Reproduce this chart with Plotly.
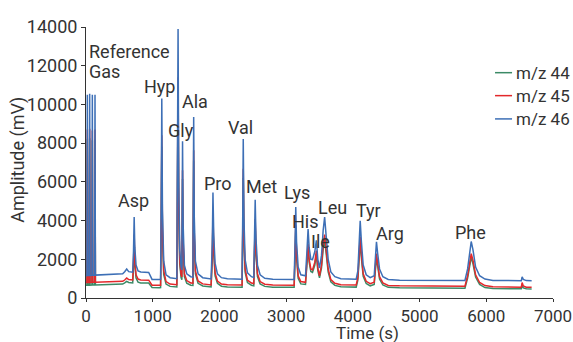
import plotly.graph_objects as go

# ---- data ----
TIME = [0, 14, 20, 26, 49, 55, 61, 89, 95, 101, 129, 135, 141, 300, 550, 580, 610, 640, 700, 712,
        722, 732, 750, 780, 820, 940, 990, 1100, 1118, 1128, 1136, 1146, 1165, 1200, 1260, 1362,
        1372, 1380, 1390, 1405, 1425, 1437, 1447, 1456, 1475, 1510, 1570, 1603, 1614, 1623, 1640,
        1680, 1750, 1875, 1893, 1903, 1915, 1935, 1970, 2030, 2120, 2340, 2350, 2357, 2367, 2385,
        2420, 2480, 2515, 2528, 2536, 2548, 2570, 2610, 2680, 2800, 3120, 3135, 3144, 3156, 3180,
        3220, 3290, 3310, 3329, 3345, 3370, 3395, 3430, 3453, 3475, 3500, 3530, 3555, 3577, 3600,
        3630, 3670, 3730, 3820, 4050, 4075, 4095, 4110, 4128, 4155, 4200, 4260, 4320, 4340, 4354,
        4372, 4400, 4450, 4530, 4700, 5680, 5720, 5750, 5774, 5800, 5840, 5900, 5980, 6100, 6525,
        6537, 6555, 6600, 6680]

MZ46 = [1150, 1155, 10500, 1160, 1165, 10550, 1168, 1172, 10500, 1175, 1180, 10500, 1183, 1205, 1250,
        1360, 1500, 1360, 1330, 2400, 4180, 2600, 1700, 1400, 1340, 1320, 960, 955, 960, 5000, 10300,
        4500, 1900, 1200, 1050, 1000, 6500, 13900, 6000, 2500, 1600, 1450, 8100, 3800, 1700, 1250,
        1100, 1080, 9350, 4200, 1900, 1250, 1050, 985, 2800, 5450, 3200, 1800, 1250, 1050, 990, 975,
        4500, 8210, 4200, 2000, 1300, 1100, 1060, 3200, 5080, 3100, 1700, 1200, 1020, 975, 960, 3000,
        4700, 2900, 1600, 1200, 1150, 2300, 3560, 2600, 2000, 1980, 2400, 2980, 2000, 1550, 2200,
        3500, 4180, 3200, 2000, 1350, 1100, 1000, 975, 1400, 2900, 3990, 2900, 1700, 1200, 1050,
        1150, 2200, 2900, 2300, 1500, 1100, 960, 920, 910, 1500, 2400, 2920, 2500, 1600, 1150, 980,
        910, 895, 1090, 960, 900, 895]

MZ45 = [800, 802, 8700, 805, 806, 8750, 807, 808, 8650, 810, 812, 8700, 813, 830, 860, 930, 1030, 950,
        930, 1750, 3280, 1950, 1200, 980, 935, 920, 660, 655, 660, 4100, 8410, 3600, 1400, 850, 720,
        690, 5400, 11400, 4900, 1950, 1200, 1080, 6600, 3000, 1250, 900, 780, 770, 7630, 3400, 1400,
        880, 730, 678, 2200, 4380, 2500, 1300, 880, 720, 680, 670, 3700, 6680, 3350, 1500, 920, 770,
        745, 2600, 4080, 2450, 1250, 850, 710, 670, 660, 2400, 3760, 2300, 1150, 850, 810, 1800, 2800,
        2000, 1500, 1450, 1850, 2450, 1550, 1150, 1700, 2750, 3270, 2500, 1500, 950, 760, 690, 672,
        1050, 2300, 3180, 2250, 1250, 860, 740, 820, 1750, 2290, 1800, 1100, 780, 650, 630, 610, 1150,
        1950, 2290, 1950, 1200, 800, 640, 580, 560, 800, 620, 560, 555]

MZ44 = [660, 662, 8200, 663, 665, 8250, 665, 667, 8150, 668, 670, 8200, 670, 690, 720, 780, 860, 800,
        775, 1550, 2980, 1750, 1030, 820, 780, 770, 540, 535, 540, 3800, 7820, 3300, 1200, 720, 600,
        570, 5000, 10630, 4500, 1750, 1050, 940, 6150, 2750, 1100, 770, 660, 650, 7100, 3100, 1250,
        760, 620, 568, 2000, 4050, 2300, 1150, 760, 610, 570, 560, 3400, 6200, 3100, 1330, 800, 660,
        635, 2400, 3770, 2250, 1100, 730, 600, 560, 550, 2200, 3470, 2100, 1020, 730, 700, 1650, 2570,
        1850, 1370, 1320, 1700, 2250, 1420, 1040, 1550, 2520, 3000, 2300, 1350, 830, 650, 580, 562,
        920, 2100, 2920, 2070, 1120, 750, 630, 700, 1600, 2100, 1650, 980, 670, 550, 530, 510, 1030,
        1780, 2100, 1780, 1080, 700, 540, 490, 475, 650, 520, 475, 470]

SERIES_NAMES = ["m/z 44", "m/z 45", "m/z 46"]
PEAK_LABELS = ["Reference", "Gas", "Asp", "Hyp", "Glu", "Gly", "Ala", "Pro", "Val", "Met",
               "Lys", "His", "Ile", "Leu", "Tyr", "Arg", "Phe"]
X_TICKS = [0, 1000, 2000, 3000, 4000, 5000, 6000, 7000]
Y_TICKS = [0, 2000, 4000, 6000, 8000, 10000, 12000, 14000]

# ---- styling / layout ----
COLORS = ["#3b8a66", "#e3282b", "#3d6fb6"]
FONT = "Roboto, sans-serif"
TXT = "#333333"
FS = 18

LABEL_X = [20, 20, 707, 1103, 1330, 1430, 1637, 1973, 2309, 2638, 3169, 3286, 3513, 3697, 4232, 4559, 5770]
LABEL_Y = [12720, 11715, 5035, 10910, 14375, 8640, 10155, 5920, 8820, 5765, 5440, 3940, 2925, 4650,
           4535, 3320, 3400]
LABEL_ANCHOR = ["left", "left"] + ["center"] * 15

fig = go.Figure()
for name, ys, col in zip(SERIES_NAMES, [MZ44, MZ45, MZ46], COLORS):
    fig.add_trace(go.Scatter(x=TIME, y=ys, mode="lines", name=name,
                             line=dict(color=col, width=1.5), showlegend=False))

annotations = []
for lab, lx, ly, anc in zip(PEAK_LABELS, LABEL_X, LABEL_Y, LABEL_ANCHOR):
    annotations.append(dict(x=lx, y=ly, xref="x", yref="y", text=lab, showarrow=False,
                            xanchor=anc, yanchor="middle",
                            font=dict(family=FONT, size=FS, color=TXT)))

# manual legend
LEG_Y = [11640, 10454, 9252]
shapes = []
for name, col, ly in zip(SERIES_NAMES, COLORS, LEG_Y):
    shapes.append(dict(type="line", xref="x", yref="y", x0=6131, x1=6386, y0=ly, y1=ly,
                       line=dict(color=col, width=1.5)))
    annotations.append(dict(x=6420, y=ly, xref="x", yref="y", text=name, showarrow=False,
                            xanchor="left", yanchor="middle",
                            font=dict(family=FONT, size=17, color=TXT)))

# axis titles (pixel positions, converted to paper coords below)
annotations.append(dict(x=18, y=160, xref="paper", yref="paper", text="Amplitude (mV)",
                        showarrow=False, textangle=-90, xanchor="center", yanchor="middle",
                        font=dict(family=FONT, size=FS, color=TXT)))
annotations.append(dict(x=367, y=333, xref="paper", yref="paper", text="Time (s)",
                        showarrow=False, xanchor="center", yanchor="middle",
                        font=dict(family=FONT, size=17, color=TXT)))

W, H = 573, 342
L, R, T, B = 86, W - 553, 27, H - 298.3
for a in annotations[-2:]:
    a["x"] = (a["x"] - L) / (W - L - R)
    a["y"] = (H - B - a["y"]) / (H - T - B)

axis_common = dict(showgrid=False, zeroline=False, showline=True, linecolor="#333333",
                   linewidth=1, ticks="outside", tickwidth=1, tickcolor="#333333",
                   ticklabeloverflow="allow", automargin=False)

fig.update_layout(
    width=W, height=H,
    margin=dict(l=L, r=R, t=T, b=B, pad=0, autoexpand=False),
    paper_bgcolor="white", plot_bgcolor="white",
    showlegend=False,
    annotations=annotations,
    shapes=shapes,
    xaxis=dict(range=[0, 7000], tickvals=X_TICKS, ticktext=[str(v) for v in X_TICKS], ticklen=3,
               tickfont=dict(family=FONT, size=17, color=TXT), **axis_common),
    yaxis=dict(range=[0, 14000], tickvals=Y_TICKS, ticktext=[str(v) for v in Y_TICKS], ticklen=4,
               tickfont=dict(family=FONT, size=FS, color=TXT), **axis_common),
)

fig.write_html("out.html", config={"displayModeBar": False})
